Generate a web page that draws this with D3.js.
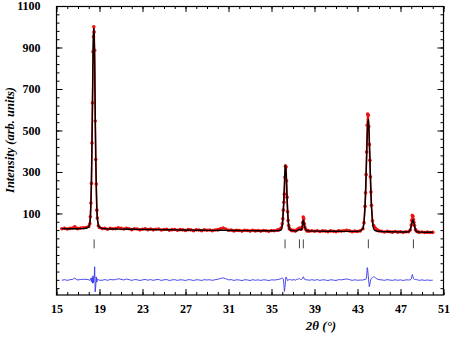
<!DOCTYPE html>
<html><head><meta charset="utf-8">
<script src="https://cdn.jsdelivr.net/npm/d3@7"></script>
<style>body{margin:0;background:#fff} svg{display:block}</style>
</head><body>
<svg id="chart" width="467" height="340"></svg>
<script>
const twoTheta = [
15.5,15.75,16.0,16.25,16.5,16.7,16.9,17.0,17.25,17.5,17.75,18.0,
18.1,18.15,18.2,18.25,18.3,18.35,18.4,18.44,18.47,18.5,18.55,18.6,18.65,18.7,18.75,18.8,18.9,19.0,
19.25,19.5,19.75,20.0,20.25,20.5,20.75,21.0,21.25,21.5,21.75,22.0,22.25,22.5,22.75,23.0,23.25,23.5,23.75,24.0,
24.25,24.5,24.75,25.0,25.25,25.5,25.75,26.0,26.25,26.5,26.75,27.0,27.25,27.5,27.75,28.0,28.25,28.5,28.75,29.0,
29.25,29.5,29.75,30.0,30.25,30.5,30.75,31.0,31.25,31.5,31.75,32.0,32.25,32.5,32.75,33.0,33.25,33.5,33.75,34.0,
34.25,34.5,34.75,35.0,35.25,35.5,
35.6,35.7,35.8,35.9,36.0,36.05,36.1,36.15,36.2,36.25,36.3,36.35,36.4,36.45,36.5,36.55,36.6,36.65,36.7,36.8,36.9,37.0,
37.1,37.2,37.3,37.4,37.5,37.6,37.7,37.8,37.85,37.9,37.95,38.0,38.05,38.1,38.2,38.3,38.4,38.5,38.75,39.0,
39.25,39.5,39.75,40.0,40.25,40.5,40.75,41.0,41.25,41.5,41.75,42.0,42.25,42.5,42.75,43.0,43.25,43.5,
43.6,43.7,43.75,43.8,43.85,43.9,43.95,44.0,44.05,44.1,44.15,44.2,44.25,44.3,44.4,44.5,44.6,44.7,44.8,44.9,45.0,45.25,
45.5,45.75,46.0,46.25,46.5,46.75,47.0,47.25,47.5,47.75,
47.9,48.0,48.05,48.1,48.15,48.2,48.25,48.3,48.4,48.5,48.6,48.75,49.0,49.25,49.5,49.75,50.0
];
const intensityObs = [
26,29,25,28,30,36,28,27,30,31,32,37,
50,84,150,245,440,633,880,952,1000,975,886,546,360,242,116,78,41,32,
27,29,24,28,26,27,31,28,25,29,26,22,26,25,21,24,26,22,25,21,
24,25,20,23,24,19,22,23,19,22,21,18,22,21,17,21,20,17,21,19,
20,17,20,22,26,30,25,19,20,16,19,18,15,19,18,15,19,16,18,15,
18,17,14,18,17,19,
20,22,24,30,50,74,116,154,193,274,328,324,258,178,108,66,42,30,24,21,17,19,
18,15,19,22,26,30,24,25,35,56,83,74,50,35,23,16,18,14,17,14,
17,13,16,15,12,16,14,12,16,15,17,19,16,12,15,13,16,26,
55,134,200,287,396,525,579,573,519,433,356,277,203,139,65,42,32.5,26,21,18.5,16,14,
11,14,12,10,13,10,12,9,12,12,
20,44,67,90,86,71.5,56,42,22,14,12,9,11,8,10,8,9
];
const intensityCalc = [
27,27,26.5,26.5,26.5,26.5,26.5,26.5,27,27.5,28.5,35.5,
52,80,141,253,428,648,860,965,990,965,822,603,390,227,126,73,39,33,
28,26.5,25.5,25,24.9,24.8,24.6,24.5,24.4,24.2,24,23.8,23.6,23.5,23.3,23.1,23,22.8,22.6,22.4,
22.2,22,21.9,21.7,21.5,21.3,21.1,21,20.8,20.6,20.4,20.2,20,19.8,19.6,19.4,19.2,19,18.9,18.7,
18.5,18.4,18.3,18.2,18.8,19.5,18.6,18,17.9,17.8,17.7,17.6,17.5,17.4,17.3,17.2,17.1,17,16.9,16.8,
16.7,16.6,16.6,16.7,16.9,17.2,
17.3,18,19,22,40,66,111,174,248,309,333,309,248,174,111,66,40,27,22,19,18,17,
16,16,16.5,18,21,23,21,22,30,48,67,63,45,32,20,17,16,15.5,15,15,
14.8,14.7,14.6,14.5,14.4,14.3,14.2,14.1,14,13.9,13.8,13.7,13.6,13.6,13.6,14,16,26,
53,131,198,282,376,465,529,553,529,465,376,282,198,131,53,26,18.5,16.3,15.2,14.5,14,13,
12.4,12,11.8,11.6,11.4,11.2,11,10.9,11,11.5,
19,39,52,63.5,68,63.5,52,39,19,12,11,10.5,10,9.8,9.6,9.5,9.4
];
const intensityDiff = [
-1,2,-1.5,1.5,3.5,9.5,1.5,0.5,3,3.5,3.5,1.5,
-2,4,9,-8,12,-15,20,-13,10,10,64,-57,-30,15,-10,5,2,-1,
-1,2.5,-1.5,3,1.1,2.2,6.4,3.5,0.6,4.8,2,-1.8,2.4,1.5,-2.3,0.9,3,-0.8,2.4,-1.4,
1.8,3,-1.9,1.3,2.5,-2.3,0.9,2,-1.8,1.4,0.6,-2.2,2,1.2,-2.6,1.6,0.8,-2,2.1,0.3,
1.5,-1.4,1.7,3.8,7.2,10.5,6.4,1,2.1,-1.8,1.3,0.4,-2.5,1.6,0.7,-2.2,1.9,-1,1.1,-1.8,
1.3,0.4,-2.6,1.3,0.1,1.8,
2.7,4,5,8,10,8,5,-20,-55,-35,-5,15,10,4,-3,0,2,3,2,2,-1,2,
2,-1,2.5,4,5,7,3,3,5,8,16,11,5,3,3,-1,2,-1.5,2,-1,
2.2,-1.7,1.4,0.5,-2.4,1.7,-0.2,-2.1,2,1.1,3.2,5.3,2.4,-1.6,1.4,-1,0,0,
2,3,2,5,20,60,50,20,-10,-32,-20,-5,5,8,12,16,14,9.7,5.8,4,2,1,
-1.4,2,0.2,-1.6,1.6,-1.2,1,-1.9,1,0.5,
1,5,15,26.5,18,8,4,3,3,2,1,-1.5,1,-1.8,0.4,-1.5,-0.4
];
const diffOffset = -221;
const braggPositions = [18.5, 36.26, 37.6, 37.96, 44.01, 48.2];
const xTickLabels = [15,19,23,27,31,35,39,43,47,51];
const yTickLabels = [100,300,500,700,900,1100];

const svg = d3.select("#chart");
svg.append("rect").attr("width",467).attr("height",340).attr("fill","#fff");

const x = d3.scaleLinear().domain([15,51]).range([56.5,443.5]);
const y = d3.scaleLinear().domain([-293,1100]).range([295,6]);

const font = "'Liberation Serif','Times New Roman',serif";

const xMinor = d3.range(15,52,1);
const yMinor = d3.range(1100,-293,-40);

function styleAxis(g){
  g.select(".domain").remove();
  g.selectAll(".tick line").attr("stroke","#000").attr("stroke-width",1);
  g.selectAll("text").attr("font-family",font).attr("font-weight","bold").attr("font-size","12px").attr("fill","#000");
}

svg.append("g").attr("transform","translate(0,295)")
  .call(d3.axisBottom(x).tickValues(xMinor).tickSize(-3).tickFormat("")).call(styleAxis);
svg.append("g").attr("transform","translate(0,295)")
  .call(d3.axisBottom(x).tickValues(xTickLabels).tickSize(-6).tickPadding(9).tickFormat(d3.format("d"))).call(styleAxis);
svg.append("g").attr("transform","translate(0,6)")
  .call(d3.axisTop(x).tickValues(xMinor).tickSize(-3).tickFormat("")).call(styleAxis);
svg.append("g").attr("transform","translate(0,6)")
  .call(d3.axisTop(x).tickValues(xTickLabels).tickSize(-6).tickFormat("")).call(styleAxis);

svg.append("g").attr("transform","translate(56.5,0)")
  .call(d3.axisLeft(y).tickValues(yMinor).tickSize(-3).tickFormat("")).call(styleAxis);
svg.append("g").attr("transform","translate(56.5,0)")
  .call(d3.axisLeft(y).tickValues(yTickLabels).tickSize(-6).tickPadding(16).tickFormat(d3.format("d"))).call(styleAxis);
svg.append("g").attr("transform","translate(443.5,0)")
  .call(d3.axisRight(y).tickValues(yMinor).tickSize(-3).tickFormat("")).call(styleAxis);
svg.append("g").attr("transform","translate(443.5,0)")
  .call(d3.axisRight(y).tickValues(yTickLabels).tickSize(-6).tickFormat("")).call(styleAxis);

svg.append("rect").attr("x",56.5).attr("y",6.5).attr("width",387).attr("height",288.5)
  .attr("fill","none").attr("stroke","#000").attr("stroke-width",1.2);

const idx = d3.range(twoTheta.length);

svg.append("path").datum(idx)
  .attr("d", d3.line().x(i=>x(twoTheta[i])).y(i=>y(intensityObs[i])))
  .attr("fill","none").attr("stroke","#f01010").attr("stroke-width",1.6);
svg.append("g").selectAll("circle").data(idx).join("circle")
  .attr("cx",i=>x(twoTheta[i])).attr("cy",i=>y(intensityObs[i])).attr("r",1.8)
  .attr("fill","#f01010");

svg.append("path").datum(idx)
  .attr("d", d3.line().x(i=>x(twoTheta[i])).y(i=>y(intensityCalc[i])))
  .attr("fill","none").attr("stroke","#000").attr("stroke-width",1.4).attr("stroke-linejoin","round");

svg.append("g").selectAll("line").data(braggPositions).join("line")
  .attr("x1",d=>x(d)).attr("x2",d=>x(d)).attr("y1",y(-25)).attr("y2",y(-68))
  .attr("stroke","#444").attr("stroke-width",1);

svg.append("path").datum(idx)
  .attr("d", d3.line().x(i=>x(twoTheta[i])).y(i=>y(diffOffset+intensityDiff[i])))
  .attr("fill","none").attr("stroke","#3535f0").attr("stroke-width",0.9);

svg.append("text").attr("transform","translate(14,140) rotate(-90)")
  .attr("text-anchor","middle").attr("font-family",font).attr("font-style","italic")
  .attr("font-weight","bold").attr("font-size","12.5px").text("Intensity (arb. units)");
svg.append("text").attr("x",321).attr("y",330)
  .attr("text-anchor","middle").attr("font-family",font).attr("font-style","italic")
  .attr("font-weight","bold").attr("font-size","13px").text("2θ (°)");
</script>
</body></html>
